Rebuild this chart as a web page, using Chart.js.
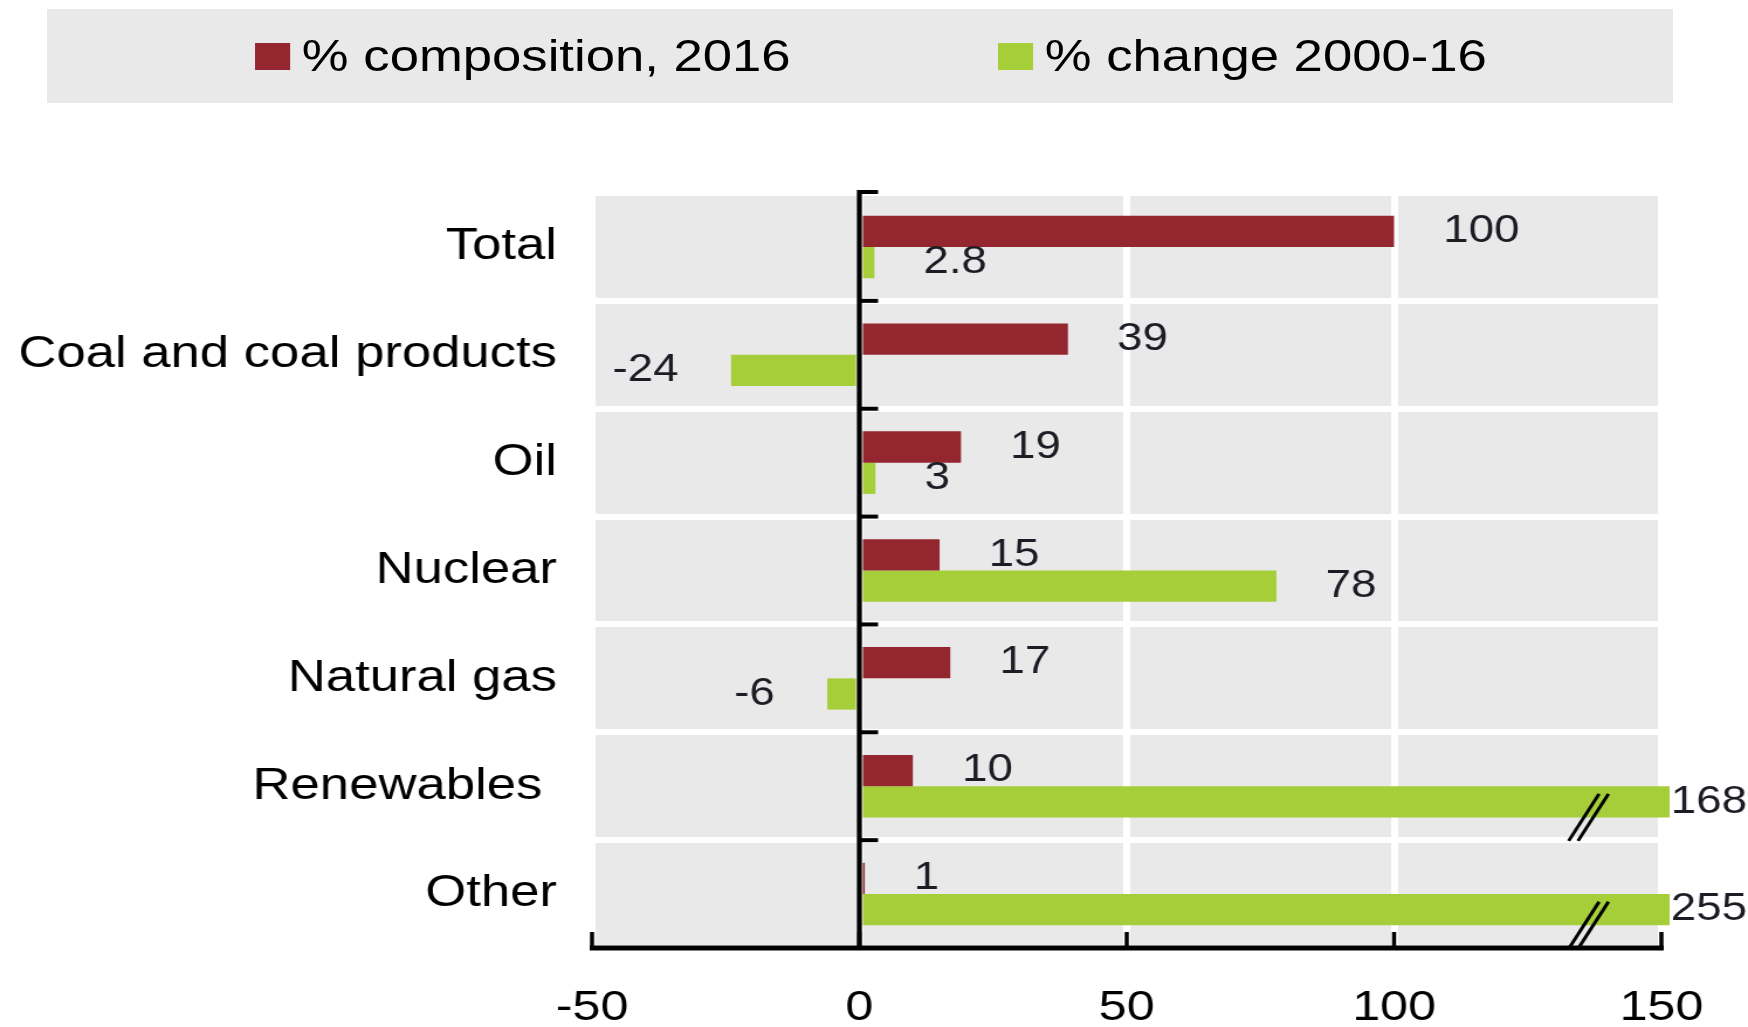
<!DOCTYPE html>
<html>
<head>
<meta charset="utf-8">
<script src="https://cdn.jsdelivr.net/npm/chart.js@4.4.1/dist/chart.umd.min.js"></script>
<style>
  html, body { margin: 0; padding: 0; background: #fff; overflow: hidden; }
  /* the original picture is stretched sideways, so the whole page is too */
  #wrap { position: relative; width: 1494px; height: 1027px; transform: scaleX(1.17); transform-origin: 0 0; }
  #legend { position: absolute; left: 40px; top: 9px; width: 1389px; height: 94px; background: #e9e9e9;
            font-family: "Liberation Sans", Arial, sans-serif; font-size: 45px; color: #000; }
  #legend .item { position: absolute; top: 0; height: 94px; display: flex; align-items: center; white-space: nowrap; }
  #legend .item i { display: inline-block; width: 30px; height: 27px; margin-right: 10px; }
  canvas { position: absolute; left: 0; top: 0; }
</style>
</head>
<body>
<div id="wrap">
  <canvas id="grafico" width="1494" height="1027"></canvas>
  <div id="legend"></div>
</div>
<script>
// datos
const categories = ['Total', 'Coal and coal products', 'Oil', 'Nuclear', 'Natural gas', 'Renewables ', 'Other'];
const composition2016 = [100, 39, 19, 15, 17, 10, 1];
const change2000_16 = [2.8, -24, 3, 78, -6, 168, 255];
const seriesNames = ['% composition, 2016', '% change 2000-16'];
const seriesColors = ['#93262e', '#a6ce39'];
const xTicks = [-50, 0, 50, 100, 150];

const FONT = '"Liberation Sans", Arial, sans-serif';

// leyenda en html
const legendPos = [218, 853];
let legend = document.getElementById('legend');
seriesNames.forEach((name, i) => {
  let item = document.createElement('span');
  item.className = 'item';
  item.style.left = (legendPos[i] - 40) + 'px';
  item.innerHTML = '<i style="background:' + seriesColors[i] + '"></i>' + name;
  legend.appendChild(item);
});

// fondo gris del area del grafico
const fondo = {
  id: 'fondo',
  beforeDraw(chart) {
    const { ctx, chartArea: a } = chart;
    ctx.save();
    ctx.fillStyle = '#e9e9e9';
    ctx.fillRect(a.left, a.top, a.right - a.left, a.bottom - a.top);
    ctx.restore();
  }
};

// ejes negros, marcas, etiquetas de valores y cortes //
const extras = {
  id: 'extras',
  afterDatasetsDraw(chart) {
    const { ctx, chartArea: a } = chart;
    const xs = chart.scales.x;
    const ys = chart.scales.y;
    const x0 = xs.getPixelForValue(0);
    const step = ys.getPixelForValue(1) - ys.getPixelForValue(0);
    ctx.save();
    ctx.strokeStyle = '#000';

    // eje vertical en cero
    ctx.lineWidth = 4.3;
    ctx.beginPath();
    ctx.moveTo(x0, a.top - 3);
    ctx.lineTo(x0, a.bottom);
    ctx.stroke();

    // marcas del eje vertical
    ctx.lineWidth = 4;
    categories.forEach((c, i) => {
      let y = ys.getPixelForValue(i) - step / 2;
      if (i === 0) y = a.top - 1;
      ctx.beginPath();
      ctx.moveTo(x0, y);
      ctx.lineTo(x0 + 16, y);
      ctx.stroke();
    });

    // eje horizontal
    ctx.lineWidth = 5;
    ctx.beginPath();
    ctx.moveTo(xs.getPixelForValue(xTicks[0]) - 2, a.bottom);
    ctx.lineTo(xs.getPixelForValue(xTicks[xTicks.length - 1]) + 2, a.bottom);
    ctx.stroke();
    ctx.lineWidth = 3.5;
    xTicks.forEach(t => {
      let x = xs.getPixelForValue(t);
      ctx.beginPath();
      ctx.moveTo(x, a.bottom);
      ctx.lineTo(x, a.bottom - 16);
      ctx.stroke();
    });

    // etiquetas de valores
    ctx.font = '39px ' + FONT;
    ctx.fillStyle = '#1c1c24';
    ctx.textBaseline = 'middle';
    chart.data.datasets.forEach((ds, di) => {
      const meta = chart.getDatasetMeta(di);
      meta.data.forEach((bar, i) => {
        let v = ds.data[i];
        if (v > xs.max) {
          ctx.textAlign = 'left';
          ctx.fillText(String(v), a.right + 8, bar.y);
          // corte //
          let xc = xs.getPixelForValue(135.5);
          let yc = bar.y + 14;
          ctx.lineWidth = 3;
          [0, 8].forEach(dx => {
            ctx.beginPath();
            ctx.moveTo(xc - 13 + dx, yc + 25);
            ctx.lineTo(xc + 13 + dx, yc - 22);
            ctx.stroke();
          });
        } else if (v >= 0) {
          ctx.textAlign = 'left';
          ctx.fillText(String(v), bar.x + 42, bar.y);
        } else {
          ctx.textAlign = 'right';
          ctx.fillText(String(v), bar.x - 45, bar.y);
        }
      });
    });
    ctx.restore();
  }
};

const config = {
  type: 'bar',
  data: {
    labels: categories,
    datasets: [
      { label: seriesNames[0], data: composition2016, backgroundColor: seriesColors[0] },
      { label: seriesNames[1], data: change2000_16, backgroundColor: seriesColors[1],
        clip: { left: 0, top: 0, right: 7, bottom: 0 } }
    ]
  },
  options: {
    indexAxis: 'y',
    responsive: false,
    animation: false,
    categoryPercentage: 0.58,
    barPercentage: 1,
    layout: { padding: { top: 193, right: 74, bottom: 0, left: 0 } },
    plugins: { legend: { display: false }, tooltip: { enabled: false } },
    scales: {
      x: {
        min: -50,
        max: 150,
        afterFit: scale => { scale.height = 79; },
        afterBuildTicks: scale => { scale.ticks = xTicks.map(v => ({ value: v })); },
        ticks: { color: '#000', font: { family: FONT, size: 43 }, padding: 34 },
        grid: { color: '#fff', lineWidth: 6, drawTicks: false },
        border: { display: false }
      },
      y: {
        afterFit: scale => { scale.width = 506; },
        ticks: { color: '#000', font: { family: FONT, size: 45 }, padding: 30 },
        grid: { color: '#fff', lineWidth: 6, drawTicks: false, offset: true },
        border: { display: false }
      }
    }
  },
  plugins: [fondo, extras]
};

const myChart = new Chart(document.getElementById('grafico'), config);
</script>
</body>
</html>
